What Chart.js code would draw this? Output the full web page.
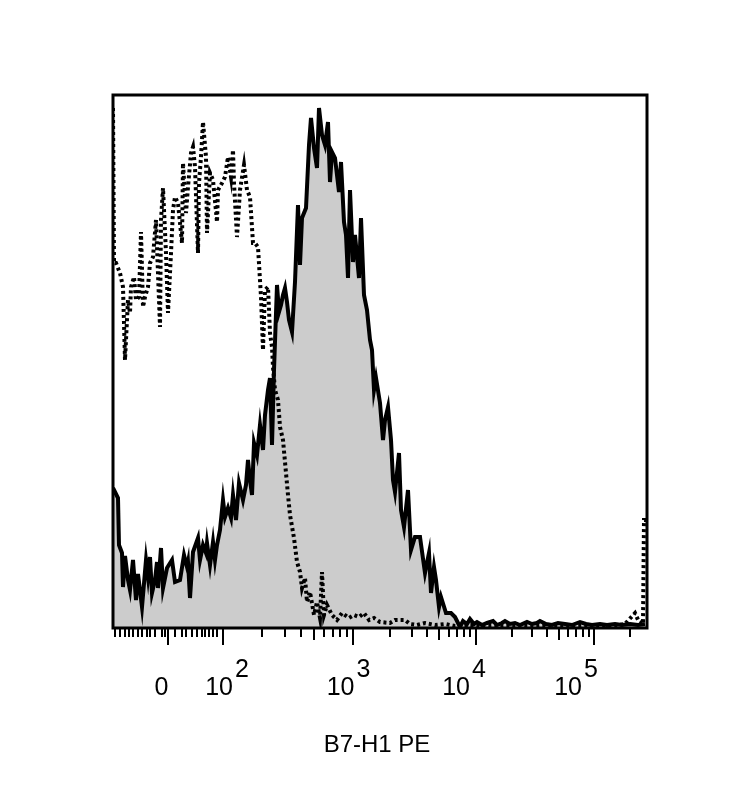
<!DOCTYPE html>
<html>
<head>
<meta charset="utf-8">
<title>B7-H1 PE</title>
<script src="https://cdn.jsdelivr.net/npm/chart.js@4.4.1/dist/chart.umd.min.js"></script>
<style>
  html, body { margin: 0; padding: 0; background: #fff; }
  #wrap { width: 740px; height: 797px; }
</style>
</head>
<body>
<div id="wrap"><canvas id="histChart" width="740" height="797"></canvas></div>
<script>
// display channel (biexponential scale, 0..534) and counts for each histogram
const solidX = [0, 2, 5, 6, 9, 10, 12, 15, 17, 20, 23, 25, 29, 33, 35, 37, 39, 42, 44, 45, 48, 50, 54, 59, 62, 67, 71, 74, 75, 77,
    80, 85, 87, 90, 93, 94, 97, 100, 102, 104, 107, 110, 112, 115, 118, 120, 123, 126, 130, 133, 135, 137, 139, 141, 144, 147, 150, 152, 155, 157,
    159, 161, 164, 166, 168, 170, 172, 174, 176, 179, 182, 185, 187, 189, 193, 196, 198, 201, 204, 206, 209, 212, 215, 217, 219, 222, 226, 228, 231, 233,
    235, 237, 240, 242, 246, 248, 251, 254, 257, 259, 261, 263, 267, 270, 272, 275, 278, 280, 282, 286, 288, 291, 295, 298, 302, 307, 312, 316, 318, 321,
    323, 326, 328, 333, 338, 342, 347, 350, 354, 357, 361, 364, 369, 374, 380, 384, 389, 392, 397, 402, 407, 414, 419, 424, 427, 433, 439, 445, 452, 459,
    467, 473, 479, 487, 494, 502, 509, 517, 525, 532];
const solidY = [140, 136, 130, 83, 75, 41, 72, 48, 38, 68, 28, 54, 21, 68, 51, 71, 35, 48, 66, 40, 80, 40, 60, 68, 46, 48, 73, 61, 66, 30,
    76, 90, 68, 83, 75, 85, 63, 86, 68, 83, 98, 128, 111, 120, 110, 133, 108, 145, 128, 143, 168, 148, 133, 185, 173, 203, 178, 213, 238, 250,
    183, 258, 343, 316, 323, 333, 340, 326, 308, 296, 346, 423, 363, 410, 420, 483, 510, 480, 460, 520, 493, 483, 506, 446, 476, 470, 436, 466, 406, 393,
    350, 438, 366, 393, 350, 410, 333, 318, 288, 278, 238, 250, 225, 188, 208, 221, 188, 148, 136, 175, 118, 101, 138, 78, 91, 91, 55, 75, 35, 61,
    48, 21, 31, 15, 15, 11, 1, 7, 4, 9, 4, 6, 3, 5, 7, 3, 5, 7, 4, 5, 3, 6, 4, 5, 7, 4, 3, 5, 4, 3,
    6, 4, 3, 4, 3, 4, 3, 4, 3, 4];

const dottedX = [0, 1, 3, 7, 10, 12, 15, 17, 18, 21, 23, 26, 28, 30, 32, 35, 37, 40, 43, 47, 48, 50, 53, 55, 58, 60, 62, 65, 69, 70,
    73, 75, 78, 80, 82, 85, 86, 88, 90, 93, 94, 97, 100, 104, 105, 109, 112, 115, 118, 120, 121, 124, 127, 131, 134, 137, 140, 142, 145, 148,
    150, 152, 155, 157, 159, 160, 162, 165, 167, 170, 172, 175, 177, 181, 184, 187, 189, 192, 194, 197, 201, 204, 207, 209, 211, 214, 219, 224, 229, 236,
    241, 246, 251, 256, 261, 267, 277, 282, 292, 297, 304, 312, 322, 332, 342, 357, 377, 397, 417, 437, 457, 477, 497, 512, 522, 526, 530, 531, 534];
const dottedY = [520, 365, 365, 355, 341, 268, 328, 315, 341, 351, 328, 331, 396, 321, 331, 341, 365, 371, 408, 301, 408, 440, 375, 315, 375, 418, 431, 425, 385, 465,
    415, 441, 475, 481, 461, 375, 445, 471, 506, 471, 395, 455, 448, 406, 438, 445, 451, 471, 451, 478, 445, 391, 438, 463, 438, 431, 385, 385, 381, 331,
    278, 338, 341, 295, 281, 261, 238, 228, 201, 188, 166, 133, 113, 90, 66, 56, 40, 50, 26, 36, 13, 26, 10, 56, 13, 23, 13, 8, 15, 10,
    13, 11, 15, 8, 10, 6, 5, 8, 8, 4, 3, 5, 3, 4, 2, 3, 2, 3, 2, 3, 2, 3, 2, 4, 15, 6, 4, 108, 108];

const CHANNEL_MAX = 534;
const COUNT_MAX = 533;

// axis ticks in display channels
const zeroTick = 55;
const decadeTicks = [110, 240, 363, 481];
const halfDecadeTicks = [201, 326, 446];
const minorTicks = [2, 7, 12, 16, 20, 25, 29, 34, 37, 42, 49, 52, 62, 69, 73, 79, 84, 89, 92, 96, 100, 104,
    149, 172, 188, 211, 220, 227, 234,
    277, 299, 314, 336, 344, 351, 357,
    399, 419, 434, 455, 463, 470, 476, 517];
// tick labels and the channel each label is centred on
const zeroLabel = '0';
const zeroLabelAt = 48.5;
const decadeExponents = ['2', '3', '4', '5'];
const decadeLabelAt = [114, 235.5, 351, 463];
const axisTitle = 'B7-H1 PE';

const FONT = '"Liberation Sans", Arial, sans-serif';

const solidPoints = solidX.map((x, i) => ({ x: x, y: solidY[i] }));
const dottedPoints = dottedX.map((x, i) => ({ x: x, y: dottedY[i] }));

// frame, tick marks and labels drawn from the x scale
const frameAndAxis = {
    id: 'frameAndAxis',
    afterDraw(chart) {
        const { ctx, chartArea: a } = chart;
        const xs = chart.scales.x;
        ctx.save();
        ctx.strokeStyle = '#000';
        ctx.lineWidth = 3;
        ctx.strokeRect(a.left, a.top, a.right - a.left, a.bottom - a.top);

        ctx.lineWidth = 2;
        const tick = (v, len) => {
            const px = Math.round(xs.getPixelForValue(v));
            ctx.beginPath();
            ctx.moveTo(px, a.bottom);
            ctx.lineTo(px, a.bottom + len);
            ctx.stroke();
        };
        minorTicks.forEach(v => tick(v, 9));
        halfDecadeTicks.forEach(v => tick(v, 12));
        decadeTicks.forEach(v => tick(v, 17));
        tick(zeroTick, 17);

        ctx.fillStyle = '#000';
        ctx.textBaseline = 'alphabetic';
        ctx.textAlign = 'center';
        ctx.font = '25px ' + FONT;
        ctx.fillText(zeroLabel, xs.getPixelForValue(zeroLabelAt), 695);

        ctx.textAlign = 'left';
        decadeLabelAt.forEach((v, i) => {
            const px = xs.getPixelForValue(v);
            const w1 = ctx.measureText('10').width;
            const w2 = ctx.measureText(decadeExponents[i]).width;
            const left = px - (w1 + w2 + 2) / 2;
            ctx.fillText('10', left, 695);
            ctx.fillText(decadeExponents[i], left + w1 + 2, 677);
        });

        ctx.textAlign = 'center';
        ctx.font = '24px ' + FONT;
        ctx.fillText(axisTitle, 377, 752);
        ctx.restore();
    }
};

new Chart(document.getElementById('histChart'), {
    type: 'line',
    data: {
        datasets: [{
            label: 'B7-H1 PE',
            data: solidPoints,
            borderColor: '#000',
            borderWidth: 4,
            backgroundColor: 'rgb(204, 204, 204)',
            fill: 'origin',
            pointRadius: 0,
            tension: 0,
            order: 2
        }, {
            label: 'Isotype control',
            data: dottedPoints,
            borderColor: '#000',
            borderWidth: 4,
            borderDash: [3, 3],
            fill: false,
            pointRadius: 0,
            tension: 0,
            order: 1
        }]
    },
    options: {
        responsive: false,
        animation: false,
        layout: { padding: { left: 113, right: 93, top: 95, bottom: 169 } },
        scales: {
            x: { type: 'linear', min: 0, max: CHANNEL_MAX, display: false },
            y: { min: 0, max: COUNT_MAX, display: false }
        },
        plugins: {
            legend: { display: false },
            tooltip: { enabled: false }
        }
    },
    plugins: [frameAndAxis]
});
</script>
</body>
</html>
